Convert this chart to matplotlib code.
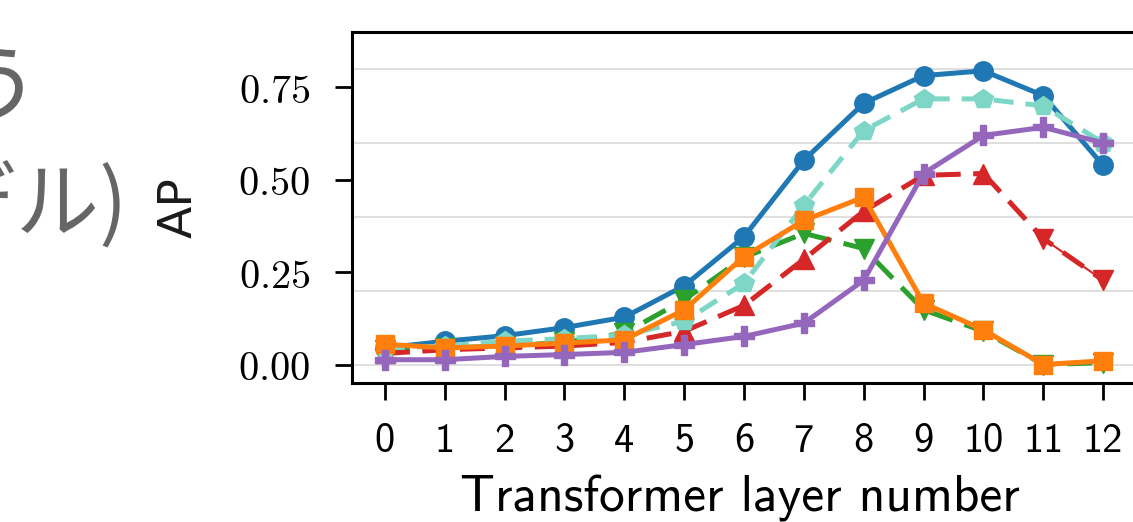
import numpy as np
import matplotlib.pyplot as plt

plt.rcParams['mathtext.fontset'] = 'cm'

# AP per transformer layer
layers = list(range(13))
blue_ap = [0.045, 0.063, 0.078, 0.100, 0.128, 0.213, 0.346, 0.553, 0.707, 0.782, 0.795, 0.728, 0.539]
teal_ap = [0.045, 0.050, 0.063, 0.070, 0.080, 0.117, 0.220, 0.431, 0.633, 0.719, 0.719, 0.700, 0.600]
purple_ap = [0.013, 0.013, 0.022, 0.027, 0.033, 0.054, 0.076, 0.112, 0.228, 0.517, 0.620, 0.642, 0.600]
red_ap = [0.030, 0.040, 0.045, 0.050, 0.060, 0.090, 0.160, 0.285, 0.415, 0.512, 0.517, 0.341, 0.228]
orange_ap = [0.055, 0.045, 0.050, 0.058, 0.067, 0.148, 0.292, 0.390, 0.453, 0.166, 0.094, 0.000, 0.010]
green_ap = [0.040, 0.045, 0.050, 0.060, 0.085, 0.175, 0.290, 0.355, 0.314, 0.148, 0.090, 0.000, 0.005]

yticks = [0.0, 0.25, 0.5, 0.75]
ytick_labels = ['$0.00$', '$0.25$', '$0.50$', '$0.75$']
grid_levels = [0.0, 0.2, 0.4, 0.6, 0.8]

fig = plt.figure(figsize=(11.33, 5.22), dpi=100)
ax = fig.add_axes([352 / 1133, 139 / 522, 784 / 1133, 351 / 522])

for g in grid_levels:
    ax.axhline(g, color='#dcdcdc', lw=1.3, zorder=0)

lw = 3.6
ax.plot(layers, blue_ap, '-', marker='o', color='#1f77b4', lw=lw, ms=14)
ax.plot(layers, green_ap, '--', marker='v', color='#2ca02c', lw=lw, ms=15, dashes=(5, 2.5))
ax.plot(layers[:11], red_ap[:11], '--', marker='^', color='#d62728', lw=lw, ms=15, dashes=(5, 2.5))
ax.plot(layers[10:], red_ap[10:], '--', color='#d62728', lw=lw, dashes=(5, 2.5))
ax.plot(layers[11:], red_ap[11:], 'none', marker='v', color='#d62728', ms=15)
ax.plot(layers, teal_ap, '--', marker='p', color='#7dd6c6', lw=lw, ms=15, dashes=(4, 2.4))
ax.plot(layers, orange_ap, '-', marker='s', color='#ff7f0e', lw=lw, ms=13)
ax.plot(layers, purple_ap, '-', marker='P', color='#9467bd', lw=lw, ms=15)

ax.set_xlim(-0.55, 12.55)
ax.set_ylim(-0.05, 0.9)
ax.set_xticks(layers)
ax.set_xticklabels([str(i) for i in layers], fontfamily='cmss10', fontsize=29)
ax.set_yticks(yticks)
ax.set_yticklabels(ytick_labels, fontsize=29)
ax.tick_params(axis='both', direction='out', length=12, width=2, colors='black')
ax.tick_params(axis='y', pad=18)
ax.tick_params(axis='x', pad=17)
for s in ax.spines.values():
    s.set_linewidth(2.2)
    s.set_color('black')

ax.set_xlabel('Transformer layer number', fontfamily='cmss10', fontsize=37)
ax.xaxis.set_label_coords(0.495, -0.262)

fig.text(179 / 1133, 1 - 208 / 522, 'AP', rotation=90, ha='center', va='center',
         fontsize=34, color='#1a1a1a', family=['DejaVu Sans'])

# cropped slide text on the left
fig.text(40 / 1133, 1 - 92 / 522, 'う', ha='right', va='center', fontsize=66,
         color='#666666', family=['Noto Sans CJK JP', 'DejaVu Sans'])
fig.text(128 / 1133, 1 - 207 / 522, 'モデル)', ha='right', va='center', fontsize=60,
         color='#666666', family=['Noto Sans CJK JP', 'DejaVu Sans'])

fig.savefig('out.png', dpi=100)
